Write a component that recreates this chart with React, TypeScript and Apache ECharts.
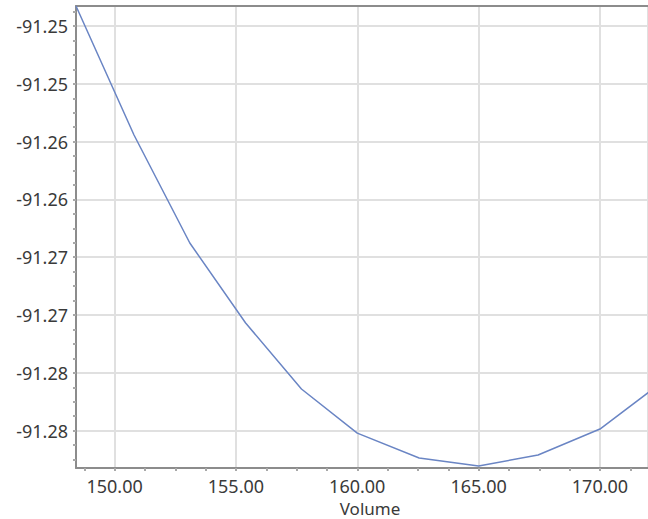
import React, { useEffect, useRef } from "react";
import * as echarts from "echarts";

// Data
const volumes = [148.41, 150.8, 153.1, 155.4, 157.7, 160.0, 162.55, 165.0, 167.45, 170.0, 172.4];
const energies = [-91.24827, -91.25943, -91.26877, -91.27569, -91.2814, -91.28521, -91.28737, -91.28806, -91.28711, -91.28486, -91.28106];

const xLabelValues = [150, 155, 160, 165, 170];
const yLabelValues = [-91.25, -91.255, -91.26, -91.265, -91.27, -91.275, -91.28, -91.285];

const X_MIN = 148.41;
const X_MAX = 171.98;
const Y_MIN = -91.28823;
const Y_MAX = -91.24827;

function stepValues(from: number, to: number, step: number): number[] {
  const out: number[] = [];
  const n = Math.round((to - from) / step);
  for (let i = 0; i <= n; i++) out.push(Math.round((from + i * step) * 1e6) / 1e6);
  return out;
}

const xTickValues = stepValues(148.75, 171.25, 1.25);
const yTickValues = stepValues(-91.2875, -91.24875, 0.00125);

const FONT = "Noto Sans";
const AXIS_COLOR = "#8c8c8c";
const GRID_COLOR = "#e0e0e0";
const TEXT_COLOR = "#3a3a3a";
const TICK_STYLE = { color: "#a8a8a8", width: 2 };

export default function App() {
  const ref = useRef<HTMLDivElement>(null);
  useEffect(() => {
    if (!ref.current) return;
    const chart = echarts.init(ref.current, null, { renderer: "svg" });
    chart.setOption({
      animation: false,
      backgroundColor: "#ffffff",
      grid: { left: 76, right: 0, top: 6, bottom: 51, containLabel: false, outerBoundsMode: "none" },
      xAxis: [
        {
          type: "value",
          min: X_MIN,
          max: X_MAX,
          splitNumber: 5,
          minInterval: 5,
          maxInterval: 5,
          name: "Volume",
          nameLocation: "middle",
          nameGap: 27,
          nameTextStyle: { fontFamily: FONT, fontSize: 17, lineHeight: 17, color: TEXT_COLOR, padding: [0, 0, 0, 16] },
          axisLine: { show: true, onZero: false, lineStyle: { color: AXIS_COLOR, width: 2 } },
          axisTick: { show: false },
          axisLabel: {
            customValues: xLabelValues,
            margin: 9,
            fontFamily: FONT,
            fontSize: 18,
            color: TEXT_COLOR,
            formatter: (v: number) => v.toFixed(2),
          },
          splitLine: { show: true, lineStyle: { color: GRID_COLOR, width: 2 } },
        },
        {
          type: "value",
          position: "top",
          min: X_MIN,
          max: X_MAX,
          axisLine: { show: true, onZero: false, lineStyle: { color: AXIS_COLOR, width: 2 } },
          axisTick: { show: false },
          axisLabel: { show: false },
          splitLine: { show: false },
        },
        {
          type: "value",
          position: "bottom",
          min: X_MIN,
          max: X_MAX,
          axisLine: { show: false, onZero: false },
          axisTick: { show: true, customValues: xTickValues, length: 3, lineStyle: TICK_STYLE },
          axisLabel: { show: false },
          splitLine: { show: false },
        },
      ],
      yAxis: [
        {
          type: "value",
          min: Y_MIN,
          max: Y_MAX,
          splitNumber: 8,
          minInterval: 0.005,
          maxInterval: 0.005,
          axisLine: { show: true, onZero: false, lineStyle: { color: AXIS_COLOR, width: 2 } },
          axisTick: { show: false },
          axisLabel: {
            customValues: yLabelValues,
            margin: 8,
            fontFamily: FONT,
            fontSize: 18,
            color: TEXT_COLOR,
            formatter: (v: number) => (Math.trunc(Math.round(v * 1000) / 10) / 100).toFixed(2),
          },
          splitLine: { show: true, lineStyle: { color: GRID_COLOR, width: 2 } },
        },
        {
          type: "value",
          position: "left",
          min: Y_MIN,
          max: Y_MAX,
          axisLine: { show: false, onZero: false },
          axisTick: { show: true, customValues: yTickValues, length: 3, lineStyle: TICK_STYLE },
          axisLabel: { show: false },
          splitLine: { show: false },
        },
      ],
      series: [
        {
          type: "line",
          xAxisIndex: 0,
          yAxisIndex: 0,
          data: volumes.map((v, i) => [v, energies[i]]),
          showSymbol: false,
          symbol: "none",
          clip: true,
          lineStyle: { color: "#6a85c4", width: 1.5 },
        },
      ],
    });
    return () => chart.dispose();
  }, []);
  return <div ref={ref} style={{ position: "fixed", left: 0, top: 0, width: 648, height: 519 }} />;
}
